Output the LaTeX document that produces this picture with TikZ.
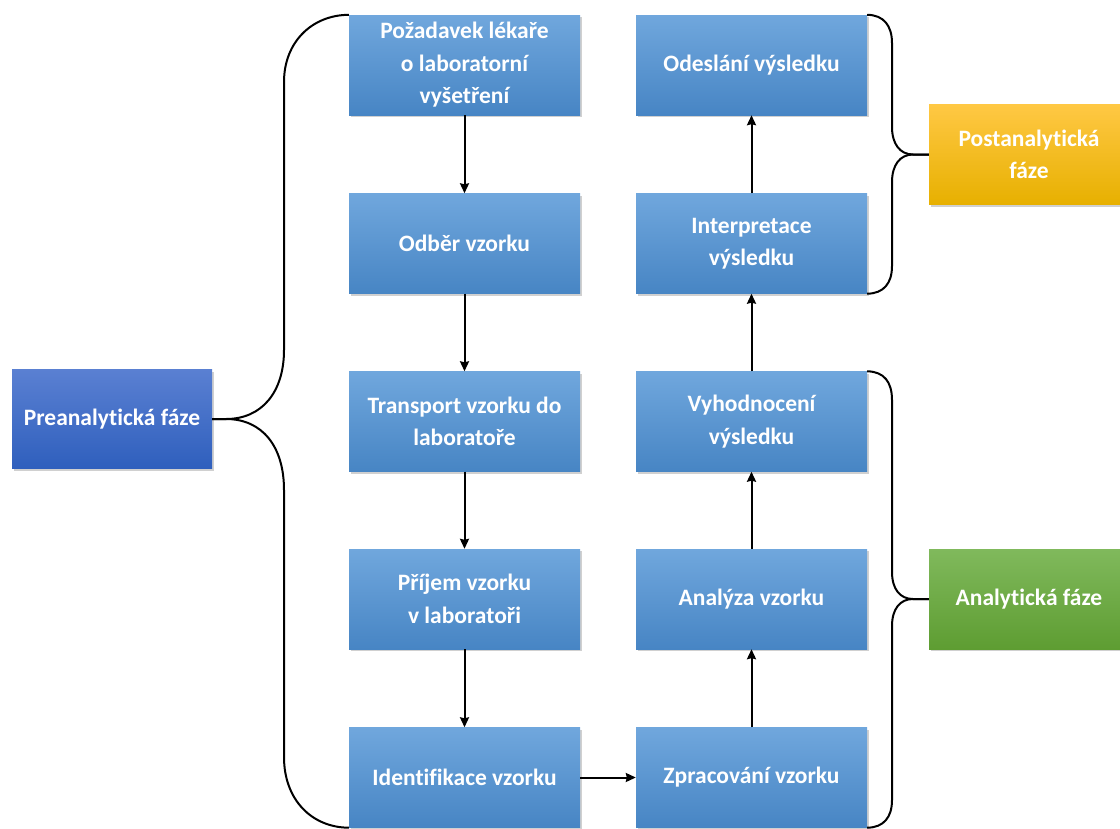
\documentclass[tikz,border=0pt]{standalone}
\usepackage{fontspec}
\setmainfont[Ligatures=NoCommon]{Carlito}
\usetikzlibrary{arrows.meta,shadows}
\definecolor{btop}{HTML}{70A7DD}
\definecolor{bmid}{HTML}{5A9AD8}
\definecolor{bbot}{HTML}{4785C4}
\definecolor{ptop}{HTML}{5A80D2}
\definecolor{pmid}{HTML}{4470CA}
\definecolor{pbot}{HTML}{2F5FBD}
\definecolor{ytop}{HTML}{FFC844}
\definecolor{ymid}{HTML}{FBC000}
\definecolor{ybot}{HTML}{E7B000}
\definecolor{gtop}{HTML}{80B95C}
\definecolor{gmid}{HTML}{6DAE43}
\definecolor{gbot}{HTML}{5E9D32}
\tikzset{
  basebox/.style={inner sep=0pt, align=center, text=white,
    font=\fontsize{23.5}{32.5}\selectfont\bfseries,
    drop shadow={shadow xshift=1.5pt, shadow yshift=-2pt, opacity=0.3, fill=black!60}},
  stepbox/.style={basebox, minimum width=231pt, minimum height=100pt,
    top color=btop, middle color=bmid, bottom color=bbot},
  prebox/.style={basebox, minimum width=200pt, minimum height=99pt,
    top color=ptop, middle color=pmid, bottom color=pbot},
  postbox/.style={basebox, minimum width=200pt, minimum height=100pt,
    top color=ytop, middle color=ymid, bottom color=ybot},
  anabox/.style={basebox, minimum width=200pt, minimum height=100pt,
    top color=gtop, middle color=gmid, bottom color=gbot},
  arr/.style={draw=black, line width=2pt, -{Stealth[length=10pt,width=9pt,inset=1pt]}},
  brace/.style={draw=black, line width=2pt, line join=round}
}
\begin{document}
\begin{tikzpicture}[x=1pt,y=-1pt]
\useasboundingbox (0,0) rectangle (1120,828);
\fill[white] (0,0) rectangle (1120,828);
% left column
\node[stepbox] (b1) at (464.5,65) {Požadavek lékaře\\o laboratorní\\vyšetření};
\node[stepbox] (b2) at (464.5,243.5) {Odběr vzorku};
\node[stepbox] (b3) at (464.5,421.5) {Transport vzorku do\\laboratoře};
\node[stepbox] (b4) at (464.5,599) {Příjem vzorku\\v laboratoři};
\node[stepbox] (b5) at (464.5,777.5) {Identifikace vzorku};
% right column
\node[stepbox] (r1) at (751.5,65) {Odeslání výsledku};
\node[stepbox] (r2) at (751.5,243.5) {Interpretace\\výsledku};
\node[stepbox] (r3) at (751.5,421.5) {Vyhodnocení\\výsledku};
\node[stepbox] (r4) at (751.5,599) {Analýza vzorku};
\node[stepbox] (r5) at (751.5,777.5) {Zpracování vzorku};
% phases
\node[prebox] (pre) at (112,419) {Preanalytická fáze};
\node[postbox] (post) at (1029,154.5) {Postanalytická\\fáze};
\node[anabox] (ana) at (1029,599) {Analytická fáze};
% arrows
\draw[arr] (b1) -- (b2);
\draw[arr] (b2) -- (b3);
\draw[arr] (b3) -- (b4);
\draw[arr] (b4) -- (b5);
\draw[arr] (b5) -- (r5);
\draw[arr] (r5) -- (r4);
\draw[arr] (r4) -- (r3);
\draw[arr] (r3) -- (r2);
\draw[arr] (r2) -- (r1);
% left brace
\draw[brace] (b1.north west) .. controls (312,15) and (284,42) .. (284,82)
  -- (284,350) .. controls (284,392) and (262,419) .. (226,419) -- (pre.east);
\draw[brace] (pre.east) -- (226,419) .. controls (262,419) and (284,446) .. (284,490)
  -- (284,757) .. controls (284,800) and (312,827.5) .. (b5.south west);
% right brace (postanalytical)
\draw[brace] (r1.north east) .. controls (884,15) and (892,26) .. (892,43)
  -- (892,127) .. controls (892,144) and (900,154.5) .. (913,154.5) -- (post.west);
\draw[brace] (post.west) -- (913,154.5) .. controls (900,154.5) and (892,165) .. (892,182)
  -- (892,266) .. controls (892,283) and (884,293.5) .. (r2.south east);
% right brace (analytical)
\draw[brace] (r3.north east) .. controls (884,371.5) and (892,382) .. (892,400)
  -- (892,572) .. controls (892,589) and (900,599) .. (913,599) -- (ana.west);
\draw[brace] (ana.west) -- (913,599) .. controls (900,599) and (892,609) .. (892,626)
  -- (892,800) .. controls (892,817) and (884,827.5) .. (r5.south east);
\end{tikzpicture}
\end{document}
